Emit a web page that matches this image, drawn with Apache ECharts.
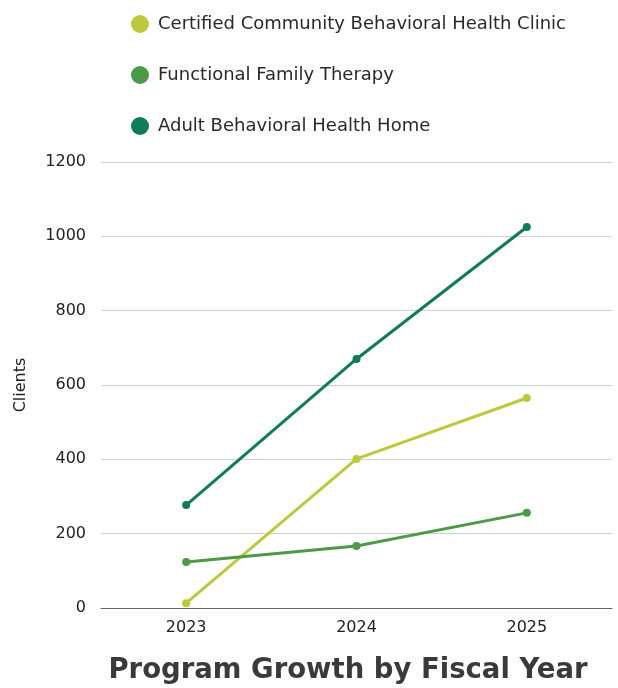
<!DOCTYPE html>
<html>
<head>
<meta charset="utf-8">
<script src="https://cdn.jsdelivr.net/npm/echarts@6/dist/echarts.min.js"></script>
<style>html,body{margin:0;padding:0;background:#fff}#c{width:618px;height:688px}</style>
</head>
<body>
<div id="c"></div>
<script>
const categories = ['2023', '2024', '2025'];
const seriesNames = ['Certified Community Behavioral Health Clinic', 'Functional Family Therapy', 'Adult Behavioral Health Home'];
const ccbhc = [13, 401, 565];
const fft = [124, 167, 256];
const adult = [277, 670, 1025];
const colors = ['#bdc83a', '#4b9a48', '#0f7d54'];
const font = 'DejaVu Sans';

const chart = echarts.init(document.getElementById('c'));
const mk = (name, data, color) => ({
  name, type: 'line', data,
  symbol: 'circle', symbolSize: 8,
  lineStyle: { width: 3, color },
  itemStyle: { color },
  emphasis: { disabled: true }
});
chart.setOption({
  animation: false,
  textStyle: { fontFamily: font },
  title: {
    text: 'Program Growth by Fiscal Year',
    left: 343, textAlign: 'center', bottom: -2,
    textStyle: { fontFamily: font, fontSize: 27.5, fontWeight: 'bold', color: '#3a3a3a' }
  },
  legend: {
    orient: 'vertical', left: 126, top: 10,
    itemGap: 33, itemWidth: 26, itemHeight: 18,
    icon: 'circle',
    textStyle: { fontFamily: font, fontSize: 18, color: '#2a2a2a' },
    data: seriesNames
  },
  grid: { left: 101, right: 6, top: 162, bottom: 80, containLabel: false },
  xAxis: {
    type: 'category', data: categories,
    axisLine: { lineStyle: { color: '#666' } },
    axisTick: { show: false },
    axisLabel: { fontSize: 16, color: '#222', margin: 12 }
  },
  yAxis: {
    type: 'value', min: 0, max: 1200, interval: 200,
    name: 'Clients', nameLocation: 'middle', nameGap: 72,
    nameTextStyle: { fontSize: 16, color: '#222' },
    axisLine: { show: false }, axisTick: { show: false },
    axisLabel: { fontSize: 16, color: '#222', margin: 15, formatter: v => String(v) },
    splitLine: { lineStyle: { color: '#d0d0d0' } }
  },
  series: [mk(seriesNames[0], ccbhc, colors[0]), mk(seriesNames[1], fft, colors[1]), mk(seriesNames[2], adult, colors[2])]
});
</script>
</body>
</html>
